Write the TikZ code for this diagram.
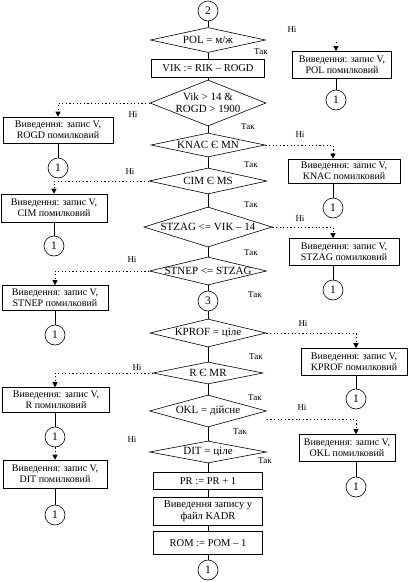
\documentclass[tikz,border=0pt]{standalone}
\usepackage{fontspec}
\setmainfont{Liberation Serif}
\usetikzlibrary{shapes.geometric, arrows.meta, calc}

\tikzset{
	umova/.style={diamond, draw, inner xsep=0pt, inner ysep=-3pt, align=center, font=\fontsize{11}{12}\selectfont},
	blok/.style={rectangle, draw, align=center, inner sep=1pt, font=\fontsize{10.5}{11.5}\selectfont},
	pomylka/.style={rectangle, draw, align=center, inner sep=1pt, font=\fontsize{10}{11.5}\selectfont},
	kolo/.style={circle, draw, minimum size=20pt, inner sep=0pt, font=\fontsize{11.5}{11.5}\selectfont},
	mitka/.style={font=\fontsize{9}{9}\selectfont, inner sep=0pt},
	ni/.style={dash pattern=on 1.2pt off 2.4pt, -{Triangle[length=5pt, width=5pt]}},
}

\begin{document}
\begin{tikzpicture}[x=1pt, y=-1pt, line width=0.6pt]
			\useasboundingbox (0,0) rectangle (409,582);
			
			% Main column
			\node[kolo] (c2) at (208,11) {2};
			\node[umova, minimum width=115pt, minimum height=25pt, aspect=4.6] (dPOL) at (208,40) {POL = м/ж};
			\node[blok, minimum width=113pt, minimum height=18pt] (bVIK) at (208,68) {VIK := RIK – ROGD};
			\node[umova, minimum width=116pt, minimum height=46pt, aspect=2.5] (dVIK) at (208,103) {Vik > 14 \&\\ROGD > 1900};
			\node[umova, minimum width=114pt, minimum height=24pt, aspect=4.75] (dKNAC) at (208,145) {KNAC Є MN};
			\node[umova, minimum width=118pt, minimum height=26pt, aspect=4.5] (dCIM) at (208,181) {CIM Є MS};
			\node[umova, minimum width=128pt, minimum height=40pt, aspect=3.2] (dSTZAG) at (208,227) {STZAG <= VIK – 14};
			\node[umova, minimum width=117pt, minimum height=28pt, aspect=4.2] (dSTNEP) at (208,271) {STNEP <= STZAG};
			\node[kolo] (c3) at (208,301) {3};
			\node[umova, minimum width=116pt, minimum height=28pt, aspect=4.1] (dKPROF) at (208,333) {KPROF = ціле};
			\node[umova, minimum width=110pt, minimum height=22pt, aspect=5] (dR) at (208,373) {R Є MR};
			\node[umova, minimum width=117pt, minimum height=32pt, aspect=3.65] (dOKL) at (208,411) {OKL = дійсне};
			\node[umova, minimum width=117pt, minimum height=22pt, aspect=5.3] (dDIT) at (208,452) {DIT = ціле};
			\node[blok, minimum width=109pt, minimum height=17pt] (bPR) at (208,481) {PR := PR + 1};
			\node[blok, minimum width=109pt, minimum height=28pt] (bKADR) at (208,511) {Виведення запису у\\файл KADR};
			\node[blok, minimum width=109pt, minimum height=23pt] (bROM) at (208,543) {ROM := POM – 1};
			\node[kolo] (cEnd) at (208,570) {1};
			
			% Main flow lines
			\foreach \a/\b in {c2/dPOL, dPOL/bVIK, bVIK/dVIK, dVIK/dKNAC, dKNAC/dCIM, dCIM/dSTZAG,
				dSTZAG/dSTNEP, dSTNEP/c3, c3/dKPROF, dKPROF/dR, dR/dOKL, dOKL/dDIT, dDIT/bPR,
				bPR/bKADR, bKADR/bROM, bROM/cEnd}
				\draw (\a) -- (\b);
			
			% Так labels
			\node[mitka] (t1) at (261,52) {Так};
			\node[mitka] (t2) at (248,127) {Так};
			\node[mitka] (t3) at (251,165) {Так};
			\node[mitka] (t4) at (251,205) {Так};
			\node[mitka] (t5) at (251,253) {Так};
			\node[mitka] (t6) at (255,295) {Так};
			\node[mitka] (t7) at (256,357) {Так};
			\node[mitka] (t8) at (255,398) {Так};
			\node[mitka] (t9) at (240,432) {Так};
			\node[mitka] (t10) at (265,461) {Так};
			
			% Ні labels
			\node[mitka] (n1) at (292,30) {Ні};
			\node[mitka] (n2) at (133,115) {Ні};
			\node[mitka] (n3) at (300,135) {Ні};
			\node[mitka] (n4) at (130,172) {Ні};
			\node[mitka] (n5) at (300,219) {Ні};
			\node[mitka] (n6) at (132,260) {Ні};
			\node[mitka] (n7) at (303,324) {Ні};
			\node[mitka] (n8) at (137,368) {Ні};
			\node[mitka] (n9) at (302,408) {Ні};
			\node[mitka] (n10) at (132,440) {Ні};
			
			% Error outputs, right side
			\node[pomylka, minimum width=99pt, minimum height=27pt] (ePOL) at (342,65) {Виведення: запис V,\\POL помилковий};
			\node[kolo] (kPOL) at (336,100) {1};
			\node[pomylka, minimum width=112pt, minimum height=24pt] (eKNAC) at (344,171) {Виведення: запис V,\\KNAC помилковий};
			\node[kolo] (kKNAC) at (333,208) {1};
			\node[pomylka, minimum width=110pt, minimum height=27pt] (eSTZAG) at (344,252) {Виведення: запис V,\\STZAG помилковий};
			\node[kolo] (kSTZAG) at (333,290) {1};
			\node[pomylka, minimum width=106pt, minimum height=27pt] (eKPROF) at (354,362) {Виведення: запис V,\\KPROF помилковий};
			\node[kolo] (kKPROF) at (356,399) {1};
			\node[pomylka, minimum width=96pt, minimum height=27pt] (eOKL) at (347,448) {Виведення: запис V,\\OKL помилковий};
			\node[kolo] (kOKL) at (356,487) {1};
			
			% Error outputs, left side
			\node[pomylka, minimum width=110pt, minimum height=26pt] (eROGD) at (58,130) {Виведення: запис V,\\ROGD помилковий};
			\node[kolo] (kROGD) at (58,168) {1};
			\node[pomylka, minimum width=106pt, minimum height=28pt] (eCIM) at (54,208) {Виведення: запис V,\\CIM помилковий};
			\node[kolo] (kCIM) at (54,246) {1};
			\node[pomylka, minimum width=106pt, minimum height=25pt] (eSTNEP) at (55,298) {Виведення: запис V,\\STNEP помилковий};
			\node[kolo] (kSTNEP) at (55,335) {1};
			\node[pomylka, minimum width=107pt, minimum height=25pt] (eR) at (56,400) {Виведення: запис V,\\R помилковий};
			\node[kolo] (kR) at (55,437) {1};
			\node[pomylka, minimum width=104pt, minimum height=28pt] (eDIT) at (55,474) {Виведення: запис V,\\DIT помилковий};
			\node[kolo] (kDIT) at (55,515) {1};
			
			% Ні branches
			\coordinate (pPOL) at (336,42);
			\coordinate (pOKL) at ($(dOKL.east)+(0,8)$);
			\draw[ni] (pPOL) -- (pPOL |- ePOL.north);
			\draw[ni] (dVIK.west) -| (eROGD.north);
			\draw[ni] (dKNAC.east) -| (kKNAC |- eKNAC.north);
			\draw[ni] (dCIM.west) -| (eCIM.north);
			\draw[ni] (dSTZAG.east) -| (kSTZAG |- eSTZAG.north);
			\draw[ni] (dSTNEP.west) -| (eSTNEP.north);
			\draw[ni] (dKPROF.east) -| (kKPROF |- eKPROF.north);
			\draw[ni] (dR.west) -| (kR |- eR.north);
			\draw[ni] (pOKL) -| (kOKL |- eOKL.north);
			\draw[ni] (kR) -- (kR |- eDIT.north);
			
			% Boxes to connectors
			\draw (ePOL.south -| kPOL) -- (kPOL);
			\draw (eKNAC.south -| kKNAC) -- (kKNAC);
			\draw (eSTZAG.south -| kSTZAG) -- (kSTZAG);
			\draw (eKPROF.south -| kKPROF) -- (kKPROF);
			\draw (eOKL.south -| kOKL) -- (kOKL);
			\draw (eROGD) -- (kROGD);
			\draw (eCIM) -- (kCIM);
			\draw (eSTNEP) -- (kSTNEP);
			\draw (eR.south -| kR) -- (kR);
			\draw (eDIT.south -| kDIT) -- (kDIT);
		\end{tikzpicture}
\end{document}
